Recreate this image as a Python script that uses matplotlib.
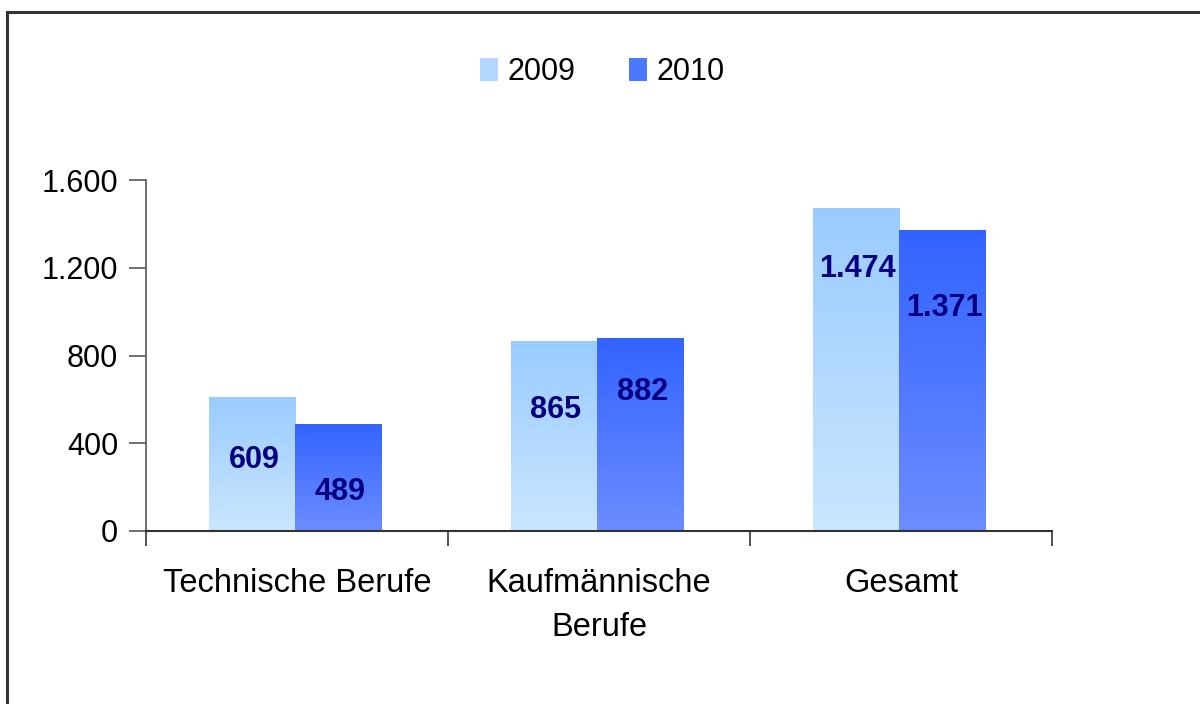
import numpy as np
import matplotlib
matplotlib.use("Agg")
import matplotlib.pyplot as plt
from matplotlib.patches import Rectangle, Patch
from matplotlib.colors import LinearSegmentedColormap

plt.rcParams['font.family'] = ['Liberation Sans', 'DejaVu Sans']

# data
categories = ['Technische Berufe', 'Kaufmännische\nBerufe', 'Gesamt']
years = ['2009', '2010']
values_2009 = [609, 865, 1474]
values_2010 = [489, 882, 1371]
labels_2009 = ['609', '865', '1.474']
labels_2010 = ['489', '882', '1.371']
# where the value labels sit, as share of the bar height
label_frac_2009 = [0.53, 0.64, 0.81]
label_frac_2010 = [0.36, 0.72, 0.74]
yticks = [0, 400, 800, 1200, 1600]
ytick_labels = ['0', '400', '800', '1.200', '1.600']

# gradient colours (top, bottom)
grad_2009 = ('#99cbff', '#cbe6fe')
grad_2010 = ('#3363ff', '#6b8dff')

fs = 22
fs_cat = 23.5

fig = plt.figure(figsize=(12, 7.04), dpi=100)
ax = fig.add_axes([146/1200, 1 - 531/704, (1052 - 146)/1200, (531 - 180)/704])

x = np.arange(len(categories))
w = 0.286

def gradient_bars(xpos, vals, cols):
    bars = ax.bar(xpos, vals, w, color='none', edgecolor='none', zorder=2)
    cmap = LinearSegmentedColormap.from_list('g', [cols[1], cols[0]])
    grad = np.linspace(0, 1, 256).reshape(-1, 1)
    for b in bars:
        x0, y0 = b.get_x(), b.get_y()
        im = ax.imshow(grad, cmap=cmap, origin='lower', aspect='auto',
                       extent=[x0, x0 + b.get_width(), y0, y0 + b.get_height()],
                       zorder=2, interpolation='bilinear')
        im.set_clip_path(b)
    return bars

b1 = gradient_bars(x - w/2 - 0.005, values_2009, grad_2009)
b2 = gradient_bars(x + w/2 - 0.005, values_2010, grad_2010)

for xi, v, lab, fr in zip(x - w/2, values_2009, labels_2009, label_frac_2009):
    ax.text(xi, v * fr, lab, ha='center', va='center', fontsize=fs,
            fontweight='bold', color='#000080', zorder=3)
for xi, v, lab, fr in zip(x + w/2, values_2010, labels_2010, label_frac_2010):
    ax.text(xi, v * fr, lab, ha='center', va='center', fontsize=fs,
            fontweight='bold', color='#000080', zorder=3)

ax.set_xlim(-0.5, len(categories) - 0.5)
ax.set_ylim(0, 1600)
ax.set_yticks(yticks)
ax.set_yticklabels(ytick_labels, fontsize=fs)
ax.set_xticks(x)
ax.set_xticklabels(categories, fontsize=fs_cat, linespacing=1.5)
ax.set_xticks(np.arange(len(categories) + 1) - 0.5, minor=True)
ax.tick_params(axis='x', which='major', length=0, pad=27)
ax.tick_params(axis='x', which='minor', length=11, width=1.2, color='#333333', direction='out')
ax.tick_params(axis='y', length=12, width=1.2, color='#555555', pad=8)
for s in ['top', 'right']:
    ax.spines[s].set_visible(False)
ax.spines['left'].set_color('#555555')
ax.spines['bottom'].set_color('#333333')
ax.spines['left'].set_linewidth(1.2)
ax.spines['bottom'].set_linewidth(1.5)

handles = [Patch(facecolor='#b3d8ff', edgecolor='none'),
           Patch(facecolor='#4a78ff', edgecolor='none')]
fig.legend(handles, years, loc='center', bbox_to_anchor=(0.502, 1 - 72/704),
           ncol=2, frameon=False, fontsize=fs, handlelength=0.6,
           handleheight=0.75, handletextpad=0.3, columnspacing=1.75)

# outer frame
fig.patches.append(Rectangle((7/1200, -0.1), 1.2, 1.1 - 12/704, transform=fig.transFigure,
                             fill=False, edgecolor='#333333', linewidth=2.2))

fig.savefig('out.png', dpi=100)
